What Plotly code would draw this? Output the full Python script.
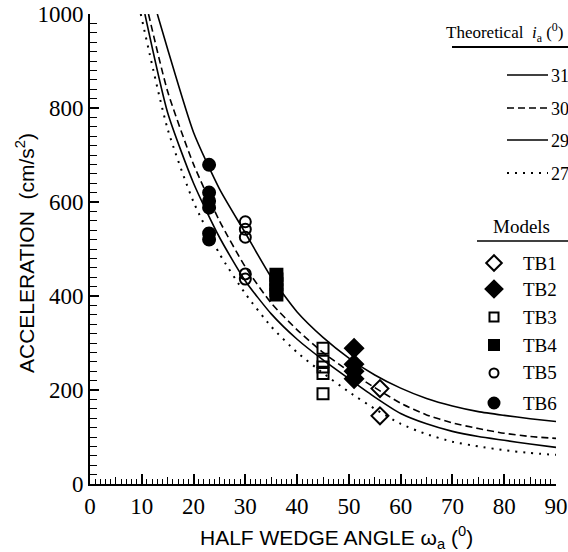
import plotly.graph_objects as go

# ---------------- data ----------------
# theoretical curves
X_31 = [13, 15, 20, 25, 30, 35, 40, 45, 50, 55, 60, 65, 70, 75, 80, 85, 90]
Y_31 = [1000, 925, 748, 628, 534, 440, 366, 312, 268, 232, 204, 182, 166, 154, 146, 139, 133]
X_30 = [11.3, 15, 20, 25, 30, 35, 40, 45, 50, 55, 60, 65, 70, 75, 80, 85, 90]
Y_30 = [1000, 835, 680, 560, 462, 385, 328, 280, 240, 205, 172, 147, 130, 118, 108, 101, 97]
X_29 = [10.6, 15, 20, 25, 30, 35, 40, 45, 50, 55, 60, 65, 70, 75, 80, 85, 90]
Y_29 = [1000, 790, 640, 525, 432, 362, 308, 264, 224, 185, 150, 128, 112, 101, 93, 85, 78]
X_27 = [9.8, 15, 20, 25, 30, 35, 40, 45, 50, 55, 60, 65, 70, 75, 80, 85, 90]
Y_27 = [1000, 755, 600, 490, 405, 335, 280, 236, 196, 160, 128, 106, 90, 80, 72, 66, 62]

# model test results
TB1_X = [56, 56]
TB1_Y = [203, 145]
TB2_X = [51, 51, 51, 51]
TB2_Y = [289, 255, 240, 224]
TB3_X = [45, 45, 45, 45, 45]
TB3_Y = [289, 261, 249, 235, 192]
TB4_X = [36, 36, 36, 36, 36]
TB4_Y = [445, 435, 425, 412, 403]
TB5_X = [30, 30, 30, 30, 30]
TB5_Y = [558, 542, 525, 447, 436]
TB6_X = [23, 23, 23, 23, 23, 23]
TB6_Y = [679, 620, 602, 588, 533, 520]

X_TICKS = [0, 10, 20, 30, 40, 50, 60, 70, 80, 90]
Y_TICKS = [0, 200, 400, 600, 800, 1000]

CURVE_LABELS = ["31", "30", "29", "27"]
MODEL_LABELS = ["TB1", "TB2", "TB3", "TB4", "TB5", "TB6"]

# ---------------- layout helpers ----------------
W, H = 568, 552
L, R, T, B = 90, 556, 14, 484
SERIF = "Liberation Serif"
SANS = "Liberation Sans"


def px(xp):
    return (xp - L) / (R - L)


def py(yp):
    return (B - yp) / (B - T)


fig = go.Figure()

curve_styles = [
    (X_31, Y_31, "solid", 1.6),
    (X_30, Y_30, "7px,4px", 1.6),
    (X_29, Y_29, "solid", 1.6),
    (X_27, Y_27, "2px,6px", 2.0),
]
for xs, ys, dash, w in curve_styles:
    fig.add_trace(go.Scatter(x=xs, y=ys, mode="lines",
                             line=dict(color="black", width=w, dash=dash, shape="spline", smoothing=0.6),
                             showlegend=False, hoverinfo="skip"))

marker_styles = [
    (TB1_X, TB1_Y, "diamond-open", 13),
    (TB2_X, TB2_Y, "diamond", 14),
    (TB3_X, TB3_Y, "square-open", 11),
    (TB4_X, TB4_Y, "square", 12),
    (TB5_X, TB5_Y, "circle-open", 11),
    (TB6_X, TB6_Y, "circle", 12),
]
for xs, ys, sym, size in marker_styles:
    fig.add_trace(go.Scatter(x=xs, y=ys, mode="markers",
                             marker=dict(symbol=sym, size=size, color="black",
                                         line=dict(color="black", width=2)),
                             showlegend=False, hoverinfo="skip", cliponaxis=False))

# medium ticks (every 5) on x axis via overlay axis
fig.add_trace(go.Scatter(x=[], y=[], xaxis="x3", yaxis="y", showlegend=False))

# ---------------- custom legend ----------------
legend_rows_lines = [75, 108, 140, 173]
line_dashes = ["solid", "7px,4px", "solid", "2px,6px"]
for yrow, dash, lab in zip(legend_rows_lines, line_dashes, CURVE_LABELS):
    fig.add_shape(type="line", xref="paper", yref="paper",
                  x0=px(507), x1=px(548), y0=py(yrow), y1=py(yrow),
                  line=dict(color="black", width=1.6 if dash != "2px,6px" else 2.0, dash=dash))
    fig.add_annotation(text=lab, xref="paper", yref="paper", x=px(549), y=py(yrow + 1),
                       xanchor="left", yanchor="middle", showarrow=False,
                       font=dict(family=SERIF, size=18, color="black"))

fig.add_annotation(text="Theoretical\u00a0\u00a0<i>i</i><sub>a</sub>\u00a0(<sup>0</sup>)",
                   xref="paper", yref="paper", x=px(565), y=py(32),
                   xanchor="right", yanchor="middle", showarrow=False,
                   font=dict(family=SERIF, size=17, color="black"))
fig.add_shape(type="line", xref="paper", yref="paper", x0=px(452), x1=px(570),
              y0=py(47), y1=py(47), line=dict(color="black", width=2))

fig.add_annotation(text="Models", xref="paper", yref="paper", x=px(521), y=py(226),
                   xanchor="center", yanchor="middle", showarrow=False,
                   font=dict(family=SERIF, size=19, color="black"))
fig.add_shape(type="line", xref="paper", yref="paper", x0=px(477), x1=px(570),
              y0=py(241), y1=py(241), line=dict(color="black", width=1.5))

model_rows = [263, 289, 317, 345, 373, 403]
leg_sizes = [12, 13, 9, 10, 9, 11]
for yrow, (xs, ys, sym, size), lab, ls in zip(model_rows, marker_styles, MODEL_LABELS, leg_sizes):
    fig.add_trace(go.Scatter(x=[494], y=[yrow], xaxis="x2", yaxis="y2", mode="markers",
                             marker=dict(symbol=sym, size=ls, color="black",
                                         line=dict(color="black", width=2)),
                             showlegend=False, hoverinfo="skip"))
    fig.add_annotation(text=lab, xref="paper", yref="paper", x=px(521), y=py(yrow),
                       xanchor="left", yanchor="middle", showarrow=False,
                       font=dict(family=SERIF, size=19, color="black"))

# axis titles
fig.add_annotation(text="ACCELERATION\u00a0\u00a0(cm/s<sup>2</sup>)", xref="paper", yref="paper",
                   x=px(25), y=py(253), textangle=-90, showarrow=False,
                   xanchor="center", yanchor="middle",
                   font=dict(family=SANS, size=21, color="black"))
fig.add_annotation(text="HALF WEDGE ANGLE \u03c9<sub>a</sub> (<sup>0</sup>)", xref="paper", yref="paper",
                   x=px(336), y=py(537), showarrow=False,
                   xanchor="center", yanchor="middle",
                   font=dict(family=SANS, size=21, color="black"))

fig.update_layout(
    width=W, height=H,
    margin=dict(l=L, r=W - R, t=T, b=H - B, autoexpand=False),
    paper_bgcolor="white", plot_bgcolor="white",
    showlegend=False,
    xaxis=dict(range=[0, 90], tickvals=X_TICKS, ticks="inside", ticklen=10, tickwidth=1.5,
               tickcolor="black", showline=True, linecolor="black", linewidth=2,
               showgrid=False, zeroline=False,
               tickfont=dict(family=SERIF, size=23, color="black"),
               minor=dict(dtick=1, ticks="inside", ticklen=5, tickwidth=1.2, tickcolor="black")),
    yaxis=dict(range=[0, 1000], tickvals=Y_TICKS, ticks="inside", ticklen=9, tickwidth=1.5,
               tickcolor="black", showline=True, linecolor="black", linewidth=2,
               showgrid=False, zeroline=False,
               tickfont=dict(family=SERIF, size=23, color="black"),
               minor=dict(dtick=20, ticks="inside", ticklen=7, tickwidth=1.2, tickcolor="black")),
    xaxis2=dict(range=[L, R], domain=[0, 1], visible=False, overlaying="x", anchor="y2"),
    yaxis2=dict(range=[B, T], domain=[0, 1], visible=False, overlaying="y", anchor="x2"),
    xaxis3=dict(range=[0, 90], dtick=5, tick0=0, ticks="inside", ticklen=7, tickwidth=1.2,
                tickcolor="black", showticklabels=False, showline=False, showgrid=False,
                zeroline=False, overlaying="x", anchor="y"),
)

fig.write_html("out.html")
